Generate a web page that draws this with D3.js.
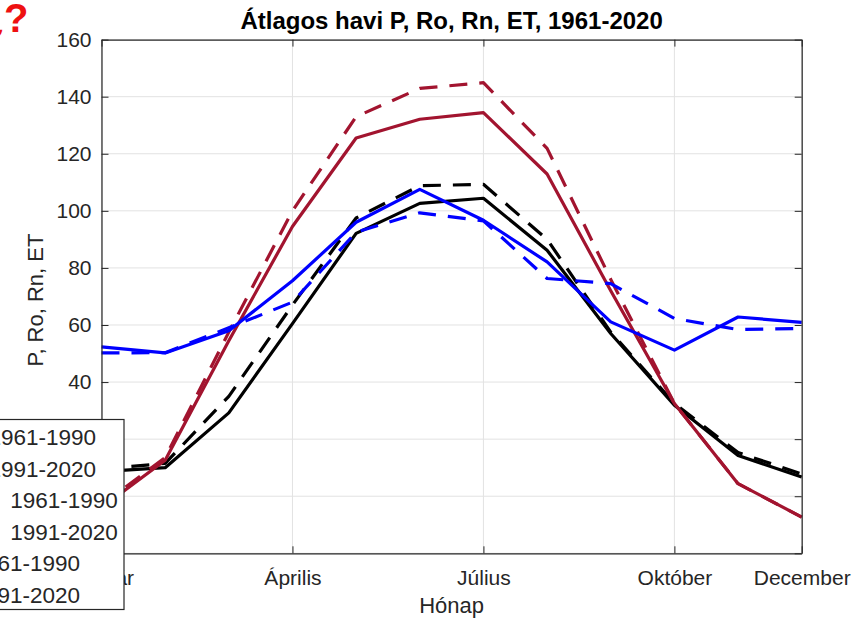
<!DOCTYPE html>
<html>
<head>
<meta charset="utf-8">
<script src="https://cdn.jsdelivr.net/npm/d3@7"></script>
<style>
  html, body { margin: 0; padding: 0; background: #fff; }
  svg { display: block; font-family: "Liberation Sans", Arial, Helvetica, sans-serif; }
</style>
</head>
<body>
<svg id="chart" width="854" height="620"></svg>
<script>
// Monthly means, 1961-1990 vs 1991-2020
const months = [1, 2, 3, 4, 5, 6, 7, 8, 9, 10, 11, 12];
const tickMonths = [1, 4, 7, 10, 12];
const tickMonthLabels = ["Január", "Április", "Július", "Október", "December"];
const yTicks = [-20, 0, 20, 40, 60, 80, 100, 120, 140, 160];

const etOld  = [8.6, 10.0, 29.2, 60.5, 92.1, 102.6, 104.4, 86.2, 57.0, 31.9, 14.3, 6.7];
const etNew  = [9.5, 11.5, 35.0, 67.0, 97.5, 108.8, 109.3, 90.0, 57.5, 32.5, 15.3, 7.8];
const rnOld  = [-4.0, 12.6, 54.5, 94.5, 125.5, 132.1, 134.4, 112.9, 72.0, 32.5, 4.4, -7.3];
const rnNew  = [-3.0, 13.5, 57.5, 100.0, 133.0, 142.9, 144.9, 121.9, 76.0, 32.5, 4.4, -7.3];
const pOld   = [52.3, 50.2, 58.0, 75.5, 96.0, 107.5, 96.7, 82.1, 61.1, 51.2, 62.8, 60.9];
const pNew   = [50.2, 50.3, 59.0, 68.0, 92.5, 99.3, 96.5, 76.3, 74.5, 62.3, 58.4, 58.8];

const seriesNames = ["ET\u200a", "ET\u200a", "Rn/λ\u00a0", "Rn/λ\u00a0", "P", "P"];
const seriesPeriods = ["1961-1990", "1991-2020", "1961-1990", "1991-2020", "1961-1990", "1991-2020"];
const seriesValues = [etOld, etNew, rnOld, rnNew, pOld, pNew];
const seriesColors = ["#000000", "#000000", "#A2142F", "#A2142F", "#0000FF", "#0000FF"];
const seriesDashed = [false, true, false, true, false, true];

const svg = d3.select("#chart");
const plotL = 101.5, plotR = 801.7, plotT = 39.6, plotB = 553.3;

const x = d3.scaleLinear().domain([1, 12]).range([plotL, plotR]);
const y = d3.scaleLinear().domain([-20, 160]).range([plotB, plotT]);

// grid
const grid = svg.append("g").attr("stroke", "#e2e2e2").attr("stroke-width", 1);
grid.selectAll("line.h").data(yTicks).join("line")
  .attr("x1", plotL).attr("x2", plotR)
  .attr("y1", d => y(d)).attr("y2", d => y(d));
grid.selectAll("line.v").data(tickMonths).join("line")
  .attr("y1", plotT).attr("y2", plotB)
  .attr("x1", d => x(d)).attr("x2", d => x(d));

// lines
const line = d3.line().x((d, i) => x(months[i])).y(d => y(d));
const linesG = svg.append("g").attr("fill", "none");
seriesValues.forEach((vals, i) => {
  linesG.append("path")
    .attr("d", line(vals))
    .attr("stroke", seriesColors[i])
    .attr("stroke-width", 3.2)
    .attr("stroke-linejoin", "round")
    .attr("stroke-dasharray", seriesDashed[i] ? "18 12" : null);
});

// axes with inward ticks on all four sides
const axisColor = "#262626";
const xAxis = svg.append("g").attr("transform", `translate(0,${plotB})`)
  .call(d3.axisBottom(x).tickValues(tickMonths).tickFormat((d, i) => tickMonthLabels[i])
    .tickSizeInner(-7).tickSizeOuter(0).tickPadding(17));
const yAxis = svg.append("g").attr("transform", `translate(${plotL},0)`)
  .call(d3.axisLeft(y).tickValues(yTicks).tickSizeInner(-7).tickSizeOuter(0).tickPadding(10));
const xTop = svg.append("g").attr("transform", `translate(0,${plotT})`)
  .call(d3.axisTop(x).tickValues(tickMonths).tickFormat("").tickSizeInner(-7).tickSizeOuter(0));
const yRight = svg.append("g").attr("transform", `translate(${plotR},0)`)
  .call(d3.axisRight(y).tickValues(yTicks).tickFormat("").tickSizeInner(-7).tickSizeOuter(0));

[xAxis, yAxis, xTop, yRight].forEach(g => {
  g.select(".domain").attr("stroke", axisColor).attr("stroke-width", 1.2);
  g.selectAll(".tick line").attr("stroke", axisColor).attr("stroke-width", 1);
  g.selectAll(".tick text").attr("fill", axisColor).attr("font-size", 21)
    .attr("font-family", "Liberation Sans, Arial, sans-serif");
});

// title and axis labels
svg.append("text").attr("x", (plotL + plotR) / 2).attr("y", 29)
  .attr("text-anchor", "middle").attr("font-size", 24).attr("font-weight", "bold")
  .attr("fill", "#000").text("Átlagos havi P, Ro, Rn, ET, 1961-2020");
svg.append("text").attr("x", (plotL + plotR) / 2).attr("y", 613)
  .attr("text-anchor", "middle").attr("font-size", 22).attr("fill", axisColor).text("Hónap");
svg.append("text").attr("transform", "translate(43,300) rotate(-90)")
  .attr("text-anchor", "middle").attr("font-size", 22).attr("fill", axisColor).text("P, Ro, Rn, ET");

// legend
const lg = svg.append("g");
lg.append("rect").attr("x", -125).attr("y", 419.5).attr("width", 249).attr("height", 190)
  .attr("fill", "#fff").attr("stroke", axisColor).attr("stroke-width", 1.2);
const rowY = d3.scalePoint().domain(d3.range(seriesNames.length)).range([437, 594.5]);
seriesNames.forEach((name, i) => {
  lg.append("line").attr("x1", -118).attr("x2", -62)
    .attr("y1", rowY(i)).attr("y2", rowY(i))
    .attr("stroke", seriesColors[i]).attr("stroke-width", 3.2)
    .attr("stroke-dasharray", seriesDashed[i] ? "18 12" : null);
  lg.append("text").attr("x", -48.5).attr("y", rowY(i)).attr("dy", "0.36em")
    .attr("font-size", 22.5).attr("fill", axisColor)
    .text(`${name} ${seriesPeriods[i]}`);
});

// red marker in the corner
svg.append("text").attr("x", 28.5).attr("y", 32).attr("text-anchor", "end")
  .attr("font-size", 40).attr("font-weight", "bold").attr("fill", "#ee1111").text("¿?");
</script>
</body>
</html>
